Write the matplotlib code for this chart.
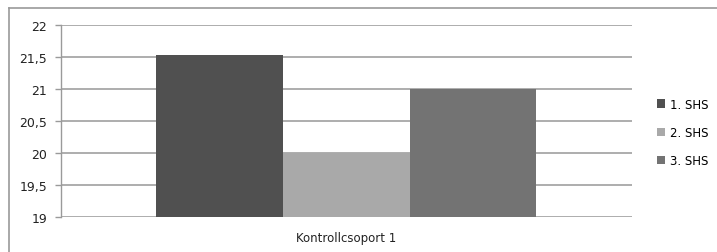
import matplotlib
matplotlib.use("Agg")
import matplotlib.pyplot as plt
from matplotlib.lines import Line2D

categories = ["Kontrollcsoport 1"]
series_names = ["1. SHS", "2. SHS", "3. SHS"]
values = [21.53, 20.0, 21.0]
colors = ["#505050", "#a9a9a9", "#737373"]
yticks = [19, 19.5, 20, 20.5, 21, 21.5, 22]
ytick_labels = ["19", "19,5", "20", "20,5", "21", "21,5", "22"]

fig = plt.figure(figsize=(7.17, 2.53), dpi=100)
ax = fig.add_axes([0.085, 0.138, 0.796, 0.759])

w = 0.222
offsets = [-w, 0, w]
for name, v, c, off in zip(series_names, values, colors, offsets):
    ax.bar(0 + off, v - 19, bottom=19, width=w, color=c, label=name, zorder=3)

ax.set_xlim(-0.5, 0.5)
ax.set_ylim(19, 22)
ax.set_yticks(yticks)
ax.set_yticklabels(ytick_labels, fontsize=9, color="#222222")
ax.set_xticks([0])
ax.set_xticklabels(categories, fontsize=8.5, color="#222222")
ax.tick_params(axis="x", length=0, pad=10)
ax.tick_params(axis="y", length=4, color="#9a9a9a", width=1, pad=6)
ax.grid(axis="y", color="#a0a0a0", linewidth=1.2, zorder=0)
for s in ["top", "right", "bottom"]:
    ax.spines[s].set_visible(False)
ax.spines["left"].set_color("#9a9a9a")
ax.spines["left"].set_linewidth(1)

leg = ax.legend(loc="center left", bbox_to_anchor=(1.025, 0.44), frameon=False,
                fontsize=8.5, handlelength=0.7, handleheight=0.7,
                handletextpad=0.4, labelspacing=1.3)

# chart frame (partially visible)
fig.add_artist(Line2D([0.0125, 0.0125], [0, 0.964], color="#9a9a9a", lw=1.2, transform=fig.transFigure))
fig.add_artist(Line2D([0.0125, 1.0], [0.964, 0.964], color="#9a9a9a", lw=1.2, transform=fig.transFigure))

fig.savefig("out.png", dpi=100)
